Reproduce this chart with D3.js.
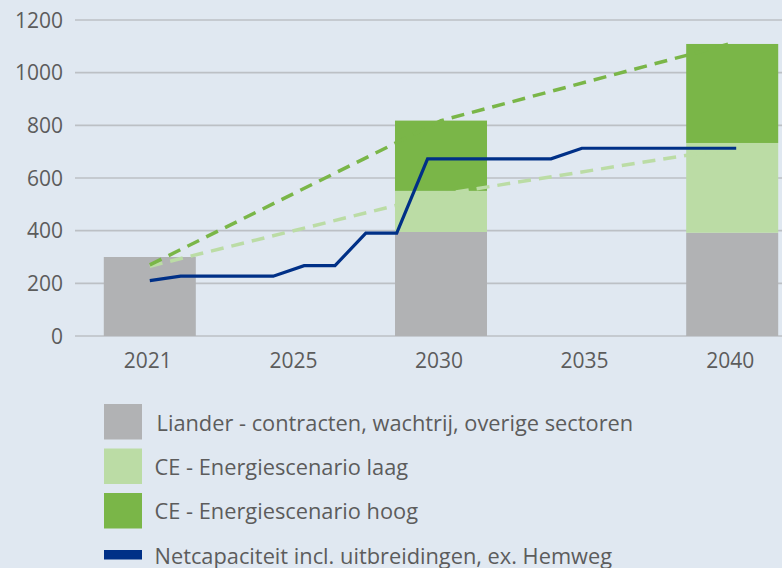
<!DOCTYPE html>
<html>
<head>
<meta charset="utf-8">
<script src="https://cdn.jsdelivr.net/npm/d3@7"></script>
<style>
  html, body { margin: 0; padding: 0; background: #e0e8f1; }
  svg { display: block; }
  text { font-family: "Open Sans", Lato, sans-serif; fill: #5c5c5c; }
</style>
</head>
<body>
<svg id="chart" width="782" height="568"></svg>
<script>
// ---- data ----
const categories = ["2021", "2025", "2030", "2035", "2040"];
const lianderValues = [300, 0, 395, 0, 392];   // grey
const laagValues    = [0, 0, 156, 0, 341];     // light green (stacked)
const hoogValues    = [0, 0, 267, 0, 376];     // dark green (stacked)

const hoogTrendCats   = ["2021", "2030", "2040"];
const hoogTrendValues = [270, 818, 1112];
const laagTrendCats   = ["2021", "2030", "2040"];
const laagTrendValues = [265, 538, 714];

const netYears  = [2021, 2022, 2025, 2026, 2027, 2028, 2029, 2030, 2034, 2035, 2040];
const netValues = [210, 227, 227, 267, 267, 391, 391, 673, 673, 713, 713];

const yTicks = [0, 200, 400, 600, 800, 1000, 1200];

const legendLabels = [
  "Liander - contracten, wachtrij, overige sectoren",
  "CE - Energiescenario laag",
  "CE - Energiescenario hoog",
  "Netcapaciteit incl. uitbreidingen, ex. Hemweg"
];

const colors = {
  liander: "#b1b2b4",
  laag: "#bbdca5",
  hoog: "#7ab648",
  net: "#003087",
  grid: "#bcc0c5"
};

// ---- scales ----
const svg = d3.select("#chart");
const x = d3.scaleBand().domain(categories).range([77, 805]).paddingInner(0.368).paddingOuter(0.184);
const y = d3.scaleLinear().domain([0, 1200]).range([336, 20]);
const xYear = d3.scaleLinear().domain([2021, 2040]).range([x("2021") + x.bandwidth() / 2, x("2040") + x.bandwidth() / 2 + 4]);
const cx = c => x(c) + x.bandwidth() / 2;

// ---- grid ----
const grid = svg.append("g");
grid.selectAll("line").data(yTicks).join("line")
  .attr("x1", 75).attr("x2", 782)
  .attr("y1", d => y(d)).attr("y2", d => y(d))
  .attr("stroke", colors.grid).attr("stroke-width", 1.6);

// y tick labels
svg.append("g").selectAll("text").data(yTicks).join("text")
  .attr("x", 63).attr("y", d => y(d)).attr("dy", "0.36em")
  .attr("text-anchor", "end").attr("font-size", 21)
  .text(d => d);

// ---- stacked bars ----
const rows = categories.map((c, i) => ({ cat: c, liander: lianderValues[i], laag: laagValues[i], hoog: hoogValues[i] }));
const stack = d3.stack().keys(["liander", "laag", "hoog"])(rows);
svg.append("g").selectAll("g").data(stack).join("g")
  .attr("fill", d => colors[d.key])
  .selectAll("rect").data(d => d.filter(p => p[1] - p[0] > 0)).join("rect")
  .attr("x", d => x(d.data.cat))
  .attr("width", x.bandwidth())
  .attr("y", d => y(d[1]))
  .attr("height", d => y(d[0]) - y(d[1]));

// ---- dashed trend lines ----
const trendLine = d3.line().x(d => cx(d[0])).y(d => y(d[1]));
svg.append("path")
  .datum(laagTrendCats.map((c, i) => [c, laagTrendValues[i]]))
  .attr("d", trendLine).attr("fill", "none")
  .attr("stroke", colors.laag).attr("stroke-width", 3.5)
  .attr("stroke-dasharray", "13,8");
svg.append("path")
  .datum(hoogTrendCats.map((c, i) => [c, hoogTrendValues[i]]))
  .attr("d", trendLine).attr("fill", "none")
  .attr("stroke", colors.hoog).attr("stroke-width", 3.5)
  .attr("stroke-dasharray", "13,8");

// ---- net capacity line ----
const netLine = d3.line().x(d => xYear(d[0])).y(d => y(d[1]));
svg.append("path")
  .datum(netYears.map((yr, i) => [yr, netValues[i]]))
  .attr("d", netLine).attr("fill", "none")
  .attr("stroke", colors.net).attr("stroke-width", 3.2)
  .attr("stroke-linejoin", "miter");

// ---- x axis labels ----
svg.append("g").selectAll("text").data(categories).join("text")
  .attr("x", d => cx(d) - 2).attr("y", 367.5)
  .attr("text-anchor", "middle").attr("font-size", 21)
  .text(d => d);

// ---- legend ----
const legendKeys = ["liander", "laag", "hoog", "net"];
const lg = svg.append("g");
const rowY = [404, 448.5, 493, 550];
legendKeys.forEach((k, i) => {
  if (k === "net") {
    lg.append("rect").attr("x", 104).attr("y", rowY[i]).attr("width", 38).attr("height", 9.5).attr("fill", colors.net);
  } else {
    lg.append("rect").attr("x", 104).attr("y", rowY[i]).attr("width", 38).attr("height", 35.5).attr("fill", colors[k]);
  }
});
const textY = [431, 474.5, 519, 563.5];
const textX = [156.5, 154.5, 154.5, 154.5];
legendLabels.forEach((t, i) => {
  lg.append("text").attr("x", textX[i]).attr("y", textY[i]).attr("font-size", 21.8).text(t);
});
</script>
</body>
</html>
